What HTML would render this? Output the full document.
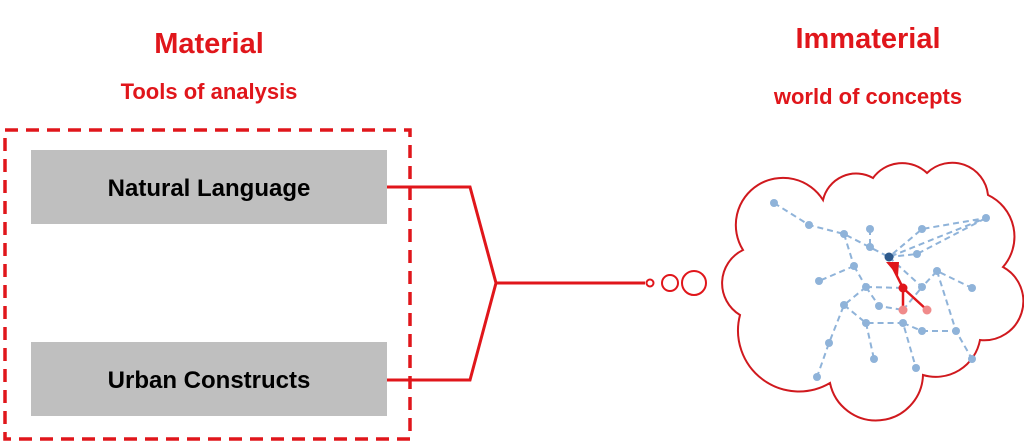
<!DOCTYPE html>
<html><head><style>
body{margin:0;width:1024px;height:443px;background:#fff;overflow:hidden;font-family:"Liberation Sans",sans-serif}
</style></head><body>
<svg width="1024" height="443" xmlns="http://www.w3.org/2000/svg">
<g font-family="Liberation Sans, sans-serif" font-weight="bold" text-anchor="middle">
<text x="209" y="53" font-size="29" fill="#e0161b">Material</text>
<text x="209" y="99" font-size="22" fill="#e0161b">Tools of analysis</text>
<text x="868" y="48" font-size="29" fill="#e0161b">Immaterial</text>
<text x="868" y="104" font-size="22" fill="#e0161b">world of concepts</text>
</g>
<rect x="5" y="130" width="405" height="309" fill="none" stroke="#e0161b" stroke-width="3.5" stroke-dasharray="13,8"/>
<rect x="31" y="150" width="356" height="74" fill="#bfbfbf"/>
<rect x="31" y="342" width="356" height="74" fill="#bfbfbf"/>
<g font-family="Liberation Sans, sans-serif" font-weight="bold" font-size="24" text-anchor="middle" fill="#000">
<text x="209" y="196">Natural Language</text>
<text x="209" y="388">Urban Constructs</text>
</g>
<g fill="none" stroke="#e0161b" stroke-width="3">
<polyline points="387,187 470,187 496,283 470,380 387,380"/>
<line x1="496" y1="283" x2="645" y2="283"/>
<circle cx="650" cy="283" r="3.5" stroke-width="2"/>
<circle cx="670" cy="283" r="8" stroke-width="2"/>
<circle cx="694" cy="283" r="12" stroke-width="2"/>
<path stroke-width="2" stroke="#d0191e" d="M743,250 A47,47 0 0 1 823,200 A34,34 0 0 1 873,178 A36,36 0 0 1 927,173 A36,36 0 0 1 988,195 A46,46 0 0 1 1003,267 A39,39 0 0 1 980,340 A45,45 0 0 1 923,375 A47,47 0 0 1 830,383 A61,61 0 0 1 740,315 A37,37 0 0 1 743,250 Z"/>
</g>
<g stroke="#8fb3d9" stroke-width="2" stroke-dasharray="6,4" fill="none">
<polyline points="774,203 809,225 844,234 889,257 986,218 922,229 889,257 917,254 986,218"/>
<line x1="870" y1="229" x2="870" y2="247"/>
<line x1="844" y1="234" x2="854" y2="266"/>
<line x1="854" y1="266" x2="819" y2="281"/>
<line x1="854" y1="266" x2="866" y2="287"/>
<polyline points="889,257 922,287 937,271 972,288"/>
<polyline points="937,271 956,331 972,359"/>
<line x1="866" y1="287" x2="903" y2="288"/>
<polyline points="866,287 844,305 829,343 817,377"/>
<polyline points="866,287 879,306 903,310"/>
<polyline points="844,305 866,323 903,323 916,368"/>
<line x1="866" y1="323" x2="874" y2="359"/>
<line x1="922" y1="331" x2="956" y2="331"/>
<line x1="903" y1="310" x2="922" y2="287"/>
<line x1="903" y1="323" x2="922" y2="331"/>
</g>
<g fill="#8fb3d9">
<circle cx="774" cy="203" r="4"/><circle cx="809" cy="225" r="4"/><circle cx="844" cy="234" r="4"/>
<circle cx="870" cy="229" r="4"/><circle cx="870" cy="247" r="4"/><circle cx="922" cy="229" r="4"/>
<circle cx="986" cy="218" r="4"/><circle cx="917" cy="254" r="4"/><circle cx="854" cy="266" r="4"/>
<circle cx="819" cy="281" r="4"/><circle cx="937" cy="271" r="4"/><circle cx="972" cy="288" r="4"/>
<circle cx="866" cy="287" r="4"/><circle cx="922" cy="287" r="4"/><circle cx="844" cy="305" r="4"/>
<circle cx="879" cy="306" r="4"/><circle cx="866" cy="323" r="4"/><circle cx="903" cy="323" r="4"/>
<circle cx="922" cy="331" r="4"/><circle cx="956" cy="331" r="4"/><circle cx="829" cy="343" r="4"/>
<circle cx="874" cy="359" r="4"/><circle cx="916" cy="368" r="4"/><circle cx="972" cy="359" r="4"/>
<circle cx="817" cy="377" r="4"/>
</g>
<g stroke="#e0161b" stroke-width="2.5">
<line x1="903" y1="288" x2="927" y2="310"/>
<line x1="903" y1="288" x2="903" y2="310"/>
<line x1="903" y1="288" x2="892" y2="266"/>
</g>
<polygon points="886,262 899,262 898,276" fill="#e0161b"/>
<circle cx="889" cy="257" r="4.5" fill="#2e5a8c"/>
<circle cx="903" cy="288" r="4.5" fill="#e0161b"/>
<circle cx="903" cy="310" r="4.5" fill="#f08a8a"/>
<circle cx="927" cy="310" r="4.5" fill="#f08a8a"/>
</svg>
</body></html>
